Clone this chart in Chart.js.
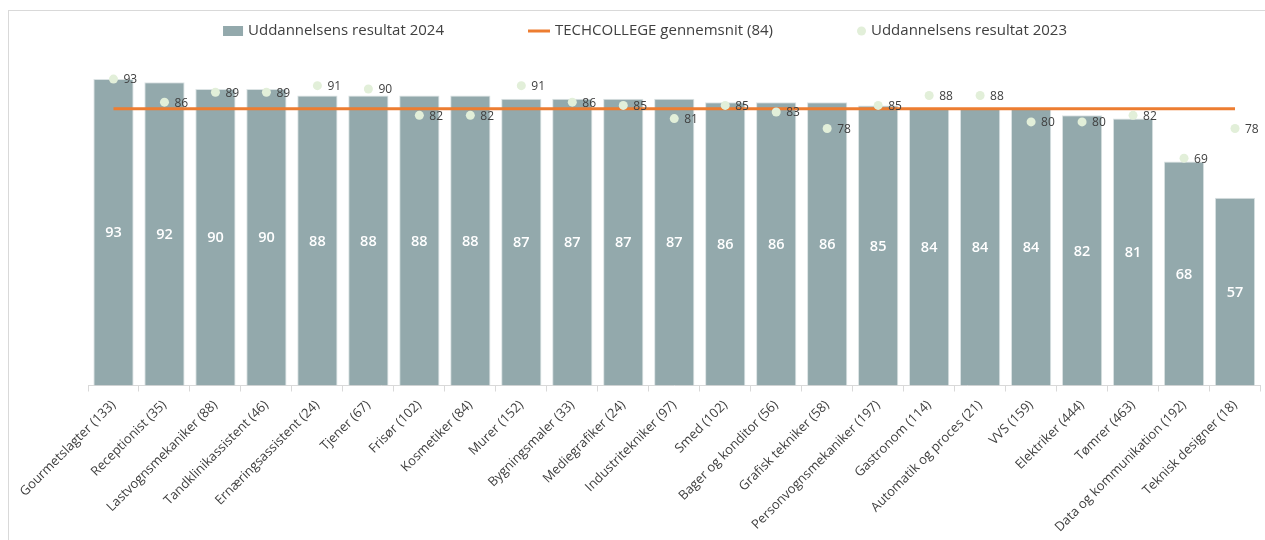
<!DOCTYPE html>
<html>
<head>
<meta charset="utf-8">
<script src="https://cdn.jsdelivr.net/npm/chart.js@4"></script>
<style>
    html, body { margin: 0; padding: 0; background: #ffffff; }
    #wrap { width: 1265px; height: 540px; }
</style>
</head>
<body>
<div id="wrap"><canvas id="chart" width="1265" height="540"></canvas></div>
<script>
// Uddannelsernes resultat 2024 vs 2023, med TECHCOLLEGE gennemsnit

const categories = [
    'Gourmetslagter (133)', 'Receptionist (35)', 'Lastvognsmekaniker (88)',
    'Tandklinikassistent (46)', 'Ernæringsassistent (24)', 'Tjener (67)',
    'Frisør (102)', 'Kosmetiker (84)', 'Murer (152)', 'Bygningsmaler (33)',
    'Mediegrafiker (24)', 'Industritekniker (97)', 'Smed (102)',
    'Bager og konditor (56)', 'Grafisk tekniker (58)', 'Personvognsmekaniker (197)',
    'Gastronom (114)', 'Automatik og proces (21)', 'VVS (159)', 'Elektriker (444)',
    'Tømrer (463)', 'Data og kommunikation (192)', 'Teknisk designer (18)'
];

const result2024 = [93, 92, 90, 90, 88, 88, 88, 88, 87, 87, 87, 87, 86, 86, 86, 85, 84, 84, 84, 82, 81, 68, 57];
const result2023 = [93, 86, 89, 89, 91, 90, 82, 82, 91, 86, 85, 81, 85, 83, 78, 85, 88, 88, 80, 80, 82, 69, 78];
const collegeAvg = [84, 84, 84, 84, 84, 84, 84, 84, 84, 84, 84, 84, 84, 84, 84, 84, 84, 84, 84, 84, 84, 84, 84];

const label2024 = 'Uddannelsens resultat 2024';
const labelAvg = 'TECHCOLLEGE gennemsnit (84)';
const label2023 = 'Uddannelsens resultat 2023';

const BAR_COLOR = '#93a9ac';
const LINE_COLOR = '#ed7d31';
const DOT_COLOR = '#e2efd9';
const TEXT_COLOR = '#404040';
const FONT = "'Open Sans', 'DejaVu Sans', sans-serif";

// White background and thin frame around the chart
const framePlugin = {
    id: 'frame',
    beforeDraw(chart) {
        const ctx = chart.ctx;
        ctx.save();
        ctx.fillStyle = '#ffffff';
        ctx.fillRect(0, 0, chart.width, chart.height);
        ctx.strokeStyle = '#d9d9d9';
        ctx.lineWidth = 1;
        ctx.strokeRect(8.5, 10.5, chart.width + 20, chart.height + 20);
        ctx.restore();
    }
};

// Value labels: white inside the bars, dark next to the 2023 dots
const valueLabelPlugin = {
    id: 'valueLabels',
    afterDatasetsDraw(chart) {
        const ctx = chart.ctx;
        ctx.save();

        const barMeta = chart.getDatasetMeta(0);
        ctx.fillStyle = '#ffffff';
        ctx.font = '600 14.5px ' + FONT;
        ctx.textAlign = 'center';
        ctx.textBaseline = 'middle';
        barMeta.data.forEach((bar, i) => {
            ctx.fillText(String(chart.data.datasets[0].data[i]), bar.x, (bar.y + bar.base) / 2 + 1);
        });

        const dotMeta = chart.getDatasetMeta(2);
        ctx.fillStyle = TEXT_COLOR;
        ctx.font = '12px ' + FONT;
        ctx.textAlign = 'left';
        dotMeta.data.forEach((pt, i) => {
            ctx.fillText(String(chart.data.datasets[2].data[i]), pt.x + 10, pt.y + 1);
        });

        ctx.restore();
    }
};

// Legend drawn on one row, with wide gaps like the original
const legendPlugin = {
    id: 'wideLegend',
    afterDraw(chart) {
        const ctx = chart.ctx;
        const items = chart.data.datasets.map(ds => ({
            text: ds.label,
            kind: ds.legendKind,
            color: ds.legendColor
        }));
        const markerW = { box: 20, line: 22, dot: 9 };
        const gapText = 5;
        const gapItem = 84;
        const centerX = 645;
        const y = 31;

        ctx.save();
        ctx.font = '15px ' + FONT;
        ctx.textBaseline = 'middle';
        ctx.textAlign = 'left';

        let total = 0;
        items.forEach((it, i) => {
            it.w = markerW[it.kind] + gapText + ctx.measureText(it.text).width;
            total += it.w + (i > 0 ? gapItem : 0);
        });

        let x = centerX - total / 2;
        items.forEach(it => {
            ctx.fillStyle = it.color;
            ctx.strokeStyle = it.color;
            if (it.kind === 'box') {
                ctx.fillRect(x, y - 5, markerW.box, 10);
            } else if (it.kind === 'line') {
                ctx.lineWidth = 3;
                ctx.beginPath();
                ctx.moveTo(x, y);
                ctx.lineTo(x + markerW.line, y);
                ctx.stroke();
            } else {
                ctx.beginPath();
                ctx.arc(x + markerW.dot / 2, y, 4.5, 0, Math.PI * 2);
                ctx.fill();
            }
            ctx.fillStyle = TEXT_COLOR;
            ctx.fillText(it.text, x + markerW[it.kind] + gapText, y);
            x += it.w + gapItem;
        });
        ctx.restore();
    }
};

const ctx = document.getElementById('chart');

new Chart(ctx, {
    data: {
        labels: categories,
        datasets: [
            {
                type: 'bar',
                label: label2024,
                data: result2024,
                backgroundColor: BAR_COLOR,
                borderColor: '#dbe3e4',
                borderWidth: 1,
                barPercentage: 0.79,
                categoryPercentage: 1.0,
                order: 2,
                legendKind: 'box',
                legendColor: BAR_COLOR
            },
            {
                type: 'line',
                label: labelAvg,
                data: collegeAvg,
                borderColor: LINE_COLOR,
                borderWidth: 3,
                pointRadius: 0,
                pointHoverRadius: 0,
                fill: false,
                order: 1,
                legendKind: 'line',
                legendColor: LINE_COLOR
            },
            {
                type: 'line',
                label: label2023,
                data: result2023,
                showLine: false,
                pointRadius: 4.5,
                pointBackgroundColor: DOT_COLOR,
                pointBorderColor: DOT_COLOR,
                pointBorderWidth: 0,
                order: 0,
                legendKind: 'dot',
                legendColor: DOT_COLOR
            }
        ]
    },
    options: {
        responsive: false,
        animation: false,
        layout: {
            padding: { left: 88, right: 2, top: 56, bottom: 0 }
        },
        plugins: {
            legend: { display: false },
            tooltip: { enabled: false },
            title: { display: false }
        },
        scales: {
            x: {
                offset: true,
                grid: {
                    display: true,
                    offset: true,
                    drawOnChartArea: false,
                    drawTicks: true,
                    tickLength: 6,
                    color: '#d9d9d9'
                },
                border: {
                    display: true,
                    color: '#d9d9d9'
                },
                ticks: {
                    color: TEXT_COLOR,
                    font: { family: FONT, size: 13 },
                    minRotation: 45,
                    maxRotation: 45,
                    autoSkip: false,
                    padding: 6
                },
                afterFit: function(scale) {
                    scale.height = 154.5;
                }
            },
            y: {
                display: false,
                min: 0,
                max: 100
            }
        }
    },
    plugins: [framePlugin, valueLabelPlugin, legendPlugin]
});
</script>
</body>
</html>
